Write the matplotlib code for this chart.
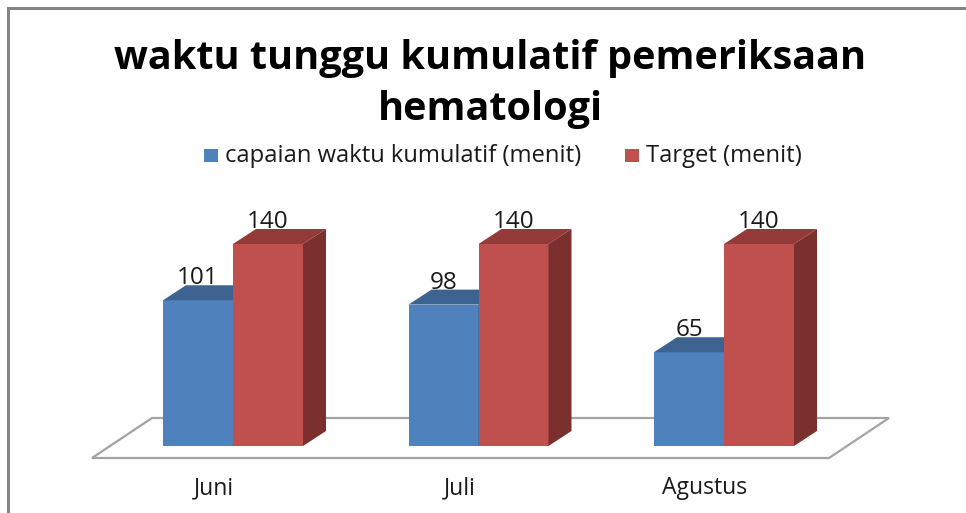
import matplotlib
matplotlib.use("Agg")
import matplotlib.pyplot as plt
from matplotlib.patches import Polygon, Rectangle

plt.rcParams['font.family'] = ['Open Sans', 'DejaVu Sans']

months = ["Juni", "Juli", "Agustus"]
capaian = [101, 98, 65]
target = [140, 140, 140]
series_names = ["capaian waktu kumulatif (menit)", "Target (menit)"]
title = "waktu tunggu kumulatif pemeriksaan\nhematologi"

W, H = 966, 513
fig = plt.figure(figsize=(W / 100, H / 100), dpi=100)
ax = fig.add_axes([0, 0, 1, 1])
ax.axis("off")

# axes fill the whole figure, limits picked so that 0 sits at the floor and months are 1 apart
px_x = 245.5   # pixels per category
px_y = 202 / 140   # pixels per minute
x0 = 233
y0 = 446
ax.set_xlim(-x0 / px_x, (W - x0) / px_x)
ax.set_ylim(-(H - y0) / px_y, y0 / px_y)

bar_w = 70 / px_x
dx = 23 / px_x
dy = 15 / px_y

# outer frame runs off the right and bottom of the picture
fig.patches.append(Rectangle((8 / W, -0.1), 1.1, 1.1 - 8 / H, transform=fig.transFigure,
                             fill=False, ec="#868686", lw=2.2))

# floor
floor = Polygon([(-141 / px_x, -12 / px_y), (-81 / px_x, 28 / px_y),
                 (656 / px_x, 28 / px_y), (596 / px_x, -12 / px_y)],
                closed=True, fc="white", ec="#a3a3a3", lw=1.6, zorder=1)
ax.add_patch(floor)


def bar3d(x, v, front, top, side, z):
    ax.bar(x, v, width=bar_w, align="edge", color=front, zorder=z)
    r = x + bar_w
    ax.add_patch(Polygon([(x, v), (x + dx, v + dy), (r + dx, v + dy), (r, v)], fc=top, ec="none", zorder=z))
    ax.add_patch(Polygon([(r, 0), (r + dx, dy), (r + dx, v + dy), (r, v)], fc=side, ec="none", zorder=z))


for i in range(len(months)):
    bar3d(i - bar_w, capaian[i], "#4f81bd", "#3d6390", "#3d6390", 2)
    bar3d(i, target[i], "#c0504d", "#943a38", "#7b302e", 3)
    ax.text(i - bar_w / 2, capaian[i] + 11, str(capaian[i]), ha="center", va="baseline",
            fontsize=17.5, color="#1a1a1a", zorder=5)
    ax.text(i + bar_w / 2, target[i] + 11, str(target[i]), ha="center", va="baseline",
            fontsize=17.5, color="#1a1a1a", zorder=5)
    ax.text(i - 19 / px_x, -42 / px_y, months[i], ha="center", va="center", fontsize=16.5, color="#1a1a1a")

fig.text(490.5 / W, 1 - 84 / H, title, ha="center", va="center", fontsize=28.5, fontweight="bold",
         color="black", linespacing=1.42)

# legend
for sx, col, name in zip([204, 625], ["#4f81bd", "#c0504d"], series_names):
    fig.patches.append(Rectangle((sx / W, 1 - 162 / H), 14 / W, 13 / H, transform=fig.transFigure,
                                 fc=col, ec="none"))
    fig.text((sx + 21) / W, 1 - 156.5 / H, name, ha="left", va="center", fontsize=17.1, color="#1a1a1a")

fig.savefig("out.png", dpi=100)
